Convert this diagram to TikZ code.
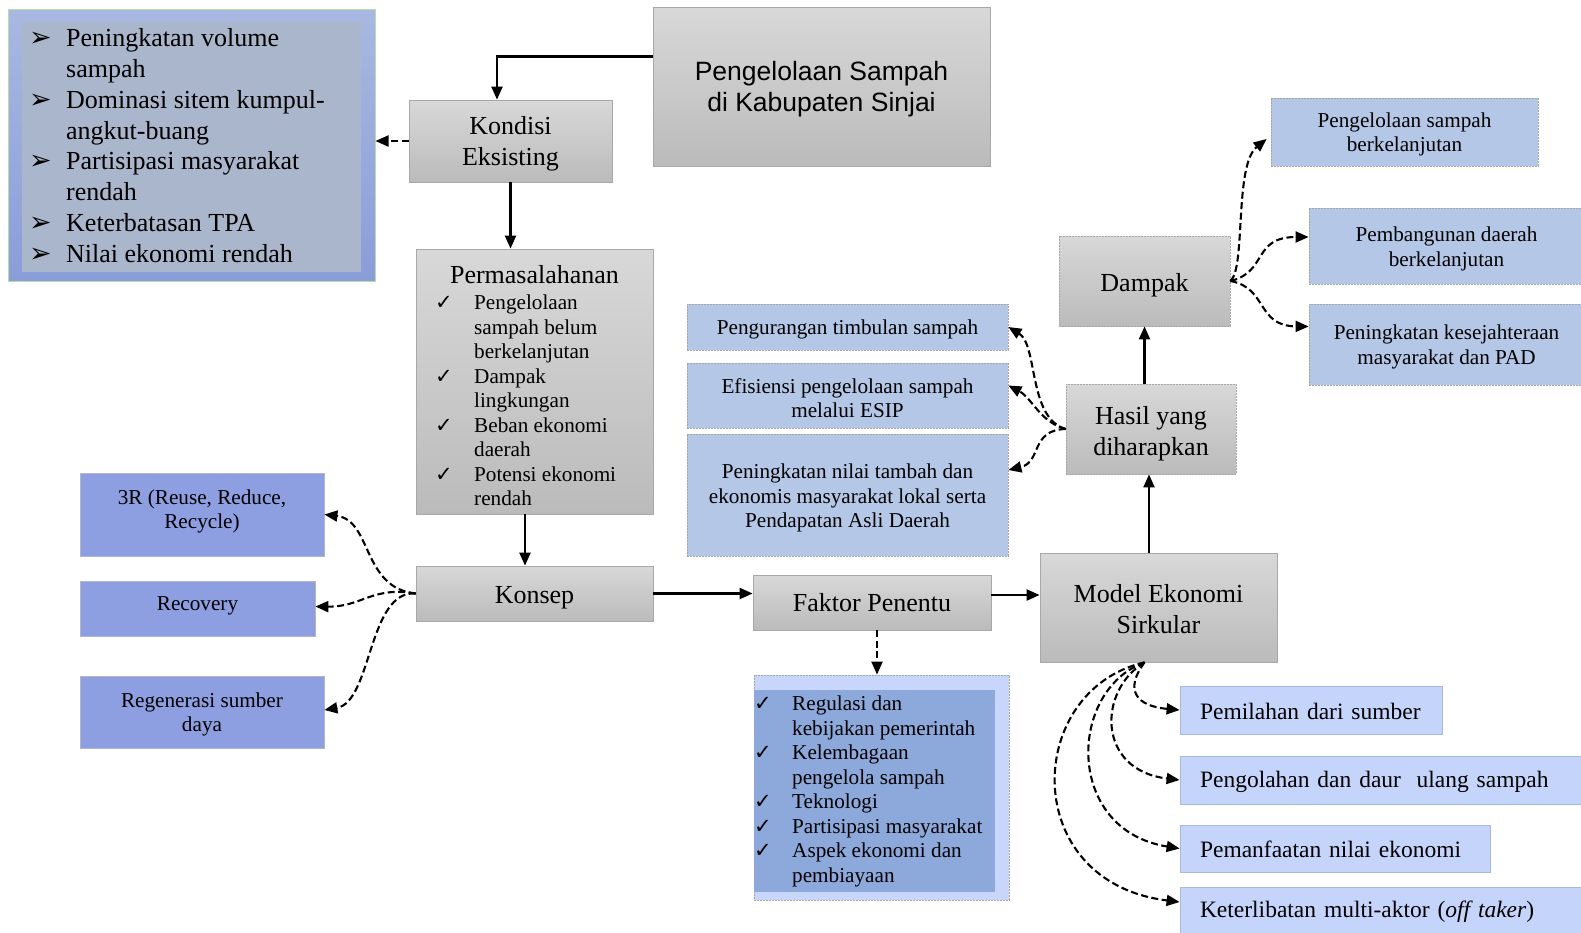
\documentclass[tikz,border=0pt]{standalone}
\usepackage{fontspec}
\setmainfont{Liberation Serif}
\newfontfamily\sansf{Liberation Sans}
\newfontfamily\djv{DejaVu Sans}
\usetikzlibrary{arrows.meta}
\definecolor{boxtop}{HTML}{D8D8D8}
\definecolor{boxbot}{HTML}{BBBBBB}
\definecolor{boxline}{HTML}{A8A8A8}
\definecolor{outc}{HTML}{B4C7E7}
\definecolor{rbox}{HTML}{8E9FE1}
\definecolor{rline}{HTML}{B4B4C4}
\definecolor{mbox}{HTML}{C5D4FB}
\definecolor{mline}{HTML}{A9B9DE}
\definecolor{flo}{HTML}{C9D6FB}
\definecolor{fli}{HTML}{8DA9DB}
\definecolor{condtop}{HTML}{A9B8E1}
\definecolor{condbot}{HTML}{8A9DD9}
\definecolor{condline}{HTML}{B8DDA6}
\definecolor{condin}{HTML}{AAB6CB}
\newcommand\fBig{\fontsize{26}{31}\selectfont}
\newcommand\fSmall{\fontsize{21.2}{24.5}\selectfont}
\newcommand\fMid{\fontsize{23.5}{28}\selectfont}
\newcommand\ck{{\djv\fontsize{21}{21}\selectfont ✓}}
\newcommand\arw{{\djv\fontsize{27}{27}\selectfont ➢}}
\newcommand\up[1]{\rule{0pt}{#1pt}}
\newcommand\dep[1]{\rule[-#1pt]{0pt}{#1pt}}
\tikzset{
  gbox/.style={draw=boxline, line width=0.8pt, top color=boxtop, bottom color=boxbot, font=\fBig, align=center, inner sep=0pt},
  gdbox/.style={gbox, dash pattern=on 2pt off 1pt},
  obox/.style={draw=gray!70, line width=0.8pt, dash pattern=on 2pt off 1pt, fill=outc, font=\fSmall, align=center, inner sep=0pt},
  rbx/.style={draw=rline, line width=0.8pt, fill=rbox, font=\fSmall, align=center, inner sep=0pt},
  mbx/.style={draw=mline, line width=0.8pt, fill=mbox, font=\fMid, align=left, inner sep=0pt, inner xsep=20pt},
  txt/.style={inner sep=0pt},
  arr/.style={line width=2.2pt, -{Triangle[length=13pt,width=11pt]}},
  darr/.style={line width=2.1pt, dash pattern=on 7pt off 3.5pt, -{Triangle[length=13pt,width=11pt]}}
}
\begin{document}
\begin{tikzpicture}[x=1pt,y=-1pt]
\useasboundingbox (0,0) rectangle (1581,932);
\fill[white] (0,0) rectangle (1581,932);
\clip (0,0) rectangle (1581,932);

% top-left existing conditions
\node[draw=condline, line width=1pt, top color=condtop, bottom color=condbot, minimum width=367pt, minimum height=272pt, inner sep=0pt] (cond) at (191.5,145) {};
\node[fill=condin, minimum width=339pt, minimum height=250pt, inner sep=0pt] (condin) at (191.5,147) {};
\node[txt, anchor=north west, font=\fontsize{26}{30.8}\selectfont] (condtxt) at (29,25) {%
\begin{tabular}{@{}p{37pt}@{}l@{}}
\arw & Peningkatan volume\\
 & sampah\\
\arw & Dominasi sitem kumpul-\\
 & angkut-buang\\
\arw & Partisipasi masyarakat\\
 & rendah\\
\arw & Keterbatasan TPA\\
\arw & Nilai ekonomi rendah
\end{tabular}};

\node[gbox, minimum width=337pt, minimum height=159pt, font=\sansf\fontsize{26.5}{31}\selectfont] (title) at (821.5,86.5) {\up{25}Pengelolaan Sampah\\di Kabupaten Sinjai};
\node[gbox, minimum width=203pt, minimum height=82pt] (kondisi) at (510.5,141) {\up{23}Kondisi\\Eksisting};

\node[gbox, minimum width=237pt, minimum height=265pt] (perm) at (534.5,381.5) {};
\node[txt, font=\fBig] (permhead) at (534.5,275) {Permasalahanan};
\node[txt, anchor=north west, font=\fSmall] (permlist) at (435,292.5) {%
\begin{tabular}{@{}p{39pt}@{}l@{}}
\ck & Pengelolaan\\
 & sampah belum\\
 & berkelanjutan\\
\ck & Dampak\\
 & lingkungan\\
\ck & Beban ekonomi\\
 & daerah\\
\ck & Potensi ekonomi\\
 & rendah
\end{tabular}};

\node[gbox, minimum width=237pt, minimum height=55pt] (konsep) at (534.5,593.5) {\up{25}Konsep};
\node[gbox, minimum width=238pt, minimum height=55pt] (faktor) at (872,602.5) {\up{19}Faktor Penentu};

\node[draw=gray!70, line width=0.8pt, dash pattern=on 2pt off 1pt, fill=flo, minimum width=255pt, minimum height=225pt, inner sep=0pt] (flist) at (881.5,787.5) {};
\node[fill=fli, minimum width=241pt, minimum height=202pt, inner sep=0pt] (flistin) at (874.5,791) {};
\node[txt, anchor=north west, font=\fSmall] (flisttxt) at (754,693.5) {%
\begin{tabular}{@{}p{38pt}@{}l@{}}
\ck & Regulasi dan\\
 & kebijakan pemerintah\\
\ck & Kelembagaan\\
 & pengelola sampah\\
\ck & Teknologi\\
\ck & Partisipasi masyarakat\\
\ck & Aspek ekonomi dan\\
 & pembiayaan
\end{tabular}};

\node[gbox, minimum width=237pt, minimum height=109pt] (model) at (1158.5,607.5) {\up{21}Model Ekonomi\\Sirkular};
\node[gdbox, minimum width=170pt, minimum height=90pt] (hasil) at (1151,429) {\up{27}Hasil yang\\diharapkan};
\node[gdbox, minimum width=171pt, minimum height=90pt] (dampak) at (1144.5,281) {\up{27}Dampak};

% impact boxes
\node[obox, minimum width=267pt, minimum height=68pt] (p1) at (1404.5,132) {\up{20}Pengelolaan sampah\\berkelanjutan};
\node[obox, minimum width=275pt, minimum height=76pt] (p2) at (1446.5,246) {\up{21}Pembangunan daerah\\berkelanjutan};
\node[obox, minimum width=275pt, minimum height=81pt] (p3) at (1446.5,344.5) {\up{20}Peningkatan kesejahteraan\\masyarakat dan PAD};

% expected outcomes
\node[obox, minimum width=321pt, minimum height=46pt] (o1) at (847.5,327) {\up{20}Pengurangan timbulan sampah};
\node[obox, minimum width=321pt, minimum height=65pt] (o2) at (847.5,395.5) {\up{20}Efisiensi pengelolaan sampah\\melalui ESIP};
\node[obox, minimum width=321pt, minimum height=122pt] (o3) at (847.5,495) {\up{21}Peningkatan nilai tambah dan\\ekonomis masyarakat lokal serta\\Pendapatan Asli Daerah};

% concept boxes
\node[rbx, minimum width=244pt, minimum height=83pt] (r1) at (202,514.5) {3R (Reuse, Reduce,\\Recycle)\dep{11}};
\node[rbx, minimum width=235pt, minimum height=55pt] (r2) at (197.5,608.5) {Recovery\dep{9}};
\node[rbx, minimum width=244pt, minimum height=72pt] (r3) at (202,712) {\up{20}Regenerasi sumber\\daya};

% model components
\node[mbx, minimum width=262pt, minimum height=48pt, text width=222pt] (m1) at (1311,710) {\mbox{\up{20}Pemilahan dari sumber}};
\node[mbx, minimum width=404pt, minimum height=48pt, text width=364pt] (m2) at (1382,780) {\mbox{\up{20}Pengolahan dan daur\ \ ulang sampah}};
\node[mbx, minimum width=310pt, minimum height=47pt, text width=270pt] (m3) at (1335,848.5) {\mbox{\up{19}Pemanfaatan nilai ekonomi}};
\node[mbx, minimum width=404pt, minimum height=48pt, text width=364pt] (m4) at (1382,911) {\mbox{\up{18}Keterlibatan multi-aktor (\textit{off taker})}};

% solid connectors
\draw[arr] ([yshift=30pt]title.west) -| ([xshift=-13.5pt]kondisi.north);
\draw[arr] (kondisi.south) -- (kondisi.south |- perm.north);
\draw[arr] ([xshift=-9.5pt]perm.south) -- ([xshift=-9.5pt]perm.south |- konsep.north);
\draw[arr] (konsep.east) -- (konsep.east -| faktor.west);
\draw[arr] ([yshift=7.5pt]faktor.east) -- ([yshift=7.5pt]faktor.east -| model.west);
\draw[arr] ([xshift=-2pt]hasil.south |- model.north) -- ([xshift=-2pt]hasil.south);
\draw[arr] (dampak.south |- hasil.north) -- (dampak.south);

% dashed connectors
\draw[darr] (kondisi.west) -- (kondisi.west -| cond.east);
\draw[darr] ([xshift=5pt]faktor.south) -- ([xshift=5pt]faktor.south |- flist.north);

\draw[darr] (dampak.east) .. controls (1246,268) and (1234,165) .. ([shift={(-4pt,-7pt)}]p1.west);
\draw[darr] (dampak.east) .. controls (1268,272) and (1252,237) .. ([yshift=9pt]p2.west);
\draw[darr] (dampak.east) .. controls (1268,288) and (1256,326) .. ([yshift=18pt]p3.west);

\draw[darr] (hasil.west) .. controls (1028,418) and (1038,345) .. (o1.east);
\draw[darr] (hasil.west) .. controls (1040,422) and (1032,398) .. ([yshift=10pt]o2.east);
\draw[darr] (hasil.west) .. controls (1030,430) and (1042,462) .. ([yshift=25pt]o3.east);

\draw[darr] (konsep.west) .. controls (362,588) and (372,520) .. (r1.east);
\draw[darr] (konsep.west) .. controls (372,586) and (362,607) .. ([yshift=2pt]r2.east);
\draw[darr] (konsep.west) .. controls (368,590) and (372,702) .. ([yshift=2pt]r3.east);

\coordinate (mb) at ([xshift=-14pt]model.south);
\draw[darr] (mb) .. controls (1124,690) and (1136,706) .. (m1.west);
\draw[darr] (mb) .. controls (1098,690) and (1096,770) .. (m2.west);
\draw[darr] (mb) .. controls (1068,690) and (1064,830) .. (m3.west);
\draw[darr] (mb) .. controls (1024,690) and (1018,882) .. ([yshift=9pt]m4.west);
\end{tikzpicture}
\end{document}
